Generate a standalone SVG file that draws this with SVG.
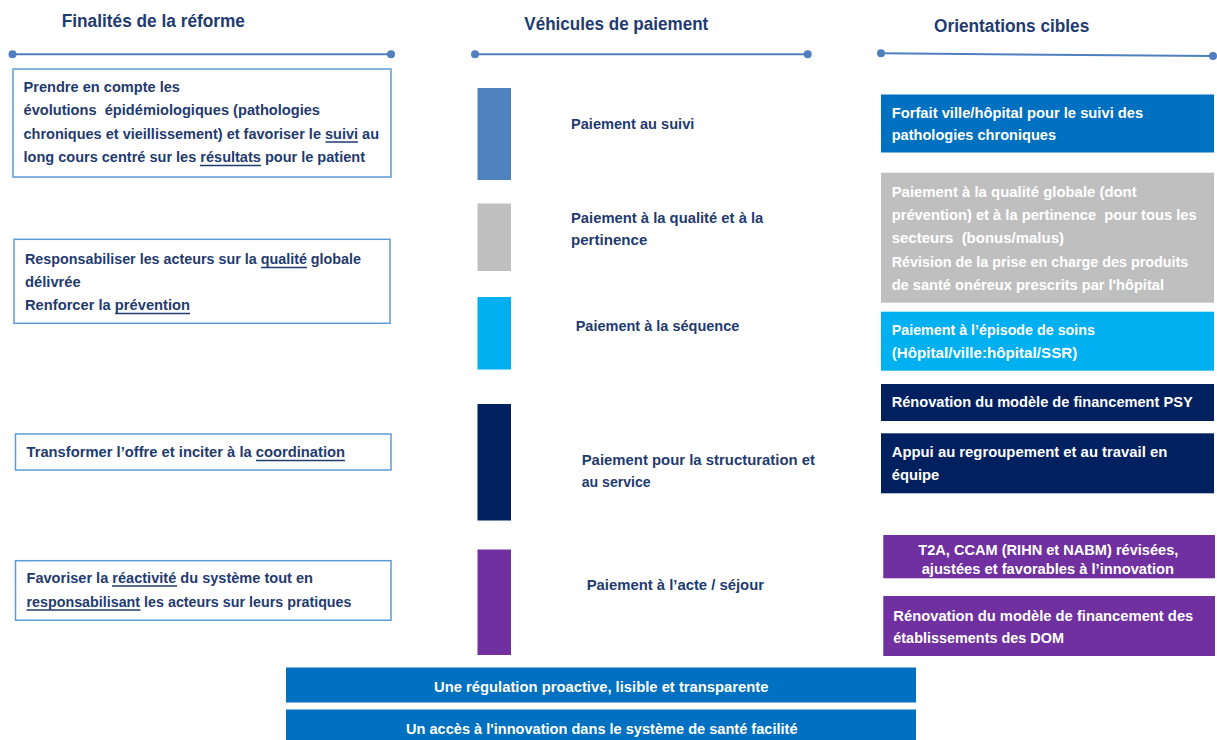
<svg xmlns="http://www.w3.org/2000/svg" width="1217" height="740" viewBox="0 0 1217 740">
<style>
text{font-family:"Liberation Sans",Arial,sans-serif;font-weight:bold;}
.title{font-size:18px;fill:#1f3b6f;}
.dk{font-size:15px;fill:#1f3b6f;}
.wt{font-size:15px;fill:#ffffff;}
.box{fill:#ffffff;stroke:#5b9bd5;stroke-width:1.5;}
.rule{stroke:#4f7fbf;stroke-width:2;fill:none;}
.dot{fill:#4f7fbf;}
.ul{stroke:#1f3b6f;stroke-width:1.3;}
</style>
<rect width="1217" height="740" fill="#ffffff"/>

<g id="headers">
  <text class="title" x="61.7" y="26.7" textLength="183.3" lengthAdjust="spacingAndGlyphs">Finalités de la réforme</text>
  <text class="title" x="524.3" y="30" textLength="184" lengthAdjust="spacingAndGlyphs">Véhicules de paiement</text>
  <text class="title" x="934" y="31.7" textLength="155.3" lengthAdjust="spacingAndGlyphs">Orientations cibles</text>
  <line class="rule" x1="12.5" y1="54.3" x2="391" y2="54.3"/>
  <circle class="dot" cx="12.5" cy="54.3" r="4"/>
  <circle class="dot" cx="391" cy="54.3" r="4"/>
  <line class="rule" x1="475" y1="54.3" x2="807.7" y2="54.3"/>
  <circle class="dot" cx="475" cy="54.3" r="4"/>
  <circle class="dot" cx="807.7" cy="54.3" r="4"/>
  <line class="rule" x1="881" y1="53.3" x2="1213" y2="56"/>
  <circle class="dot" cx="881" cy="53.3" r="4"/>
  <circle class="dot" cx="1213" cy="56" r="4"/>
</g>

<g id="connectors"></g>

<g id="finalite-1">
  <rect class="box" x="13" y="69" width="378" height="108"/>
  <text class="dk" x="23.5" y="92" textLength="156.5" lengthAdjust="spacingAndGlyphs">Prendre en compte les</text>
  <text class="dk" x="23.5" y="115" textLength="296.5" lengthAdjust="spacingAndGlyphs" xml:space="preserve">évolutions  épidémiologiques (pathologies</text>
  <text class="dk" x="23.5" y="138.5" textLength="355.5" lengthAdjust="spacingAndGlyphs">chroniques et vieillissement) et favoriser le suivi au</text>
  <text class="dk" x="23.5" y="162" textLength="341.5" lengthAdjust="spacingAndGlyphs">long cours centré sur les résultats pour le patient</text>
  <line class="ul" x1="325.5" y1="142" x2="358" y2="142"/>
  <line class="ul" x1="200" y1="165.5" x2="261" y2="165.5"/>
</g>

<g id="finalite-2">
  <rect class="box" x="14" y="239.3" width="376" height="84"/>
  <text class="dk" x="25" y="264" textLength="336" lengthAdjust="spacingAndGlyphs">Responsabiliser les acteurs sur la qualité globale</text>
  <text class="dk" x="25" y="286.5" textLength="55.7" lengthAdjust="spacingAndGlyphs">délivrée</text>
  <text class="dk" x="25" y="310" textLength="165" lengthAdjust="spacingAndGlyphs">Renforcer la prévention</text>
  <line class="ul" x1="261" y1="267.5" x2="307" y2="267.5"/>
  <line class="ul" x1="115" y1="313.5" x2="190" y2="313.5"/>
</g>

<g id="finalite-3">
  <rect class="box" x="15.5" y="434" width="375.5" height="36"/>
  <text class="dk" x="26.5" y="457" textLength="318.5" lengthAdjust="spacingAndGlyphs">Transformer l’offre et inciter à la coordination</text>
  <line class="ul" x1="256" y1="460.5" x2="345" y2="460.5"/>
</g>

<g id="finalite-4">
  <rect class="box" x="15.5" y="560.7" width="375.5" height="59.5"/>
  <text class="dk" x="26.5" y="582.5" textLength="286.5" lengthAdjust="spacingAndGlyphs">Favoriser la réactivité du système tout en</text>
  <text class="dk" x="26.5" y="606.5" textLength="325" lengthAdjust="spacingAndGlyphs">responsabilisant les acteurs sur leurs pratiques</text>
  <line class="ul" x1="112" y1="586" x2="177" y2="586"/>
  <line class="ul" x1="26.5" y1="610" x2="140.5" y2="610"/>
</g>

<g id="vehicule-suivi">
  <rect x="477.5" y="88" width="33.5" height="92" fill="#4f81bd"/>
  <text class="dk" x="571" y="129" textLength="123.3" lengthAdjust="spacingAndGlyphs">Paiement au suivi</text>
</g>
<g id="vehicule-qualite">
  <rect x="477.5" y="203.5" width="33.5" height="67.5" fill="#bfbfbf"/>
  <text class="dk" x="571" y="222.7" textLength="192.3" lengthAdjust="spacingAndGlyphs">Paiement à la qualité et à la</text>
  <text class="dk" x="571" y="245" textLength="76.3" lengthAdjust="spacingAndGlyphs">pertinence</text>
</g>
<g id="vehicule-sequence">
  <rect x="477.5" y="297" width="33.5" height="72.5" fill="#00b0f0"/>
  <text class="dk" x="575.7" y="330.7" textLength="163.6" lengthAdjust="spacingAndGlyphs">Paiement à la séquence</text>
</g>
<g id="vehicule-structuration">
  <rect x="477.5" y="404" width="33.5" height="116.5" fill="#002060"/>
  <text class="dk" x="581.7" y="465" textLength="233.3" lengthAdjust="spacingAndGlyphs">Paiement pour la structuration et</text>
  <text class="dk" x="581.7" y="487.3" textLength="69" lengthAdjust="spacingAndGlyphs">au service</text>
</g>
<g id="vehicule-acte">
  <rect x="477.5" y="549.5" width="33.5" height="105.5" fill="#7030a0"/>
  <text class="dk" x="586.7" y="590" textLength="177.3" lengthAdjust="spacingAndGlyphs">Paiement à l’acte / séjour</text>
</g>

<g id="orientation-forfait">
  <rect x="881" y="94.5" width="333" height="58" fill="#0070c0"/>
  <text class="wt" x="891.7" y="118.3" textLength="251.6" lengthAdjust="spacingAndGlyphs">Forfait ville/hôpital pour le suivi des</text>
  <text class="wt" x="891.7" y="140" textLength="164.3" lengthAdjust="spacingAndGlyphs">pathologies chroniques</text>
</g>
<g id="orientation-qualite">
  <rect x="881" y="172.7" width="333" height="130" fill="#bfbfbf"/>
  <text class="wt" x="891.7" y="196.7" textLength="245" lengthAdjust="spacingAndGlyphs">Paiement à la qualité globale (dont</text>
  <text class="wt" x="891.7" y="220" textLength="305" lengthAdjust="spacingAndGlyphs" xml:space="preserve">prévention) et à la pertinence  pour tous les</text>
  <text class="wt" x="891.7" y="243.3" textLength="172.3" lengthAdjust="spacingAndGlyphs" xml:space="preserve">secteurs  (bonus/malus)</text>
  <text class="wt" x="891.7" y="266.7" textLength="296.6" lengthAdjust="spacingAndGlyphs">Révision de la prise en charge des produits</text>
  <text class="wt" x="891.7" y="290" textLength="272.3" lengthAdjust="spacingAndGlyphs">de santé onéreux prescrits par l'hôpital</text>
</g>
<g id="orientation-episode">
  <rect x="881" y="311.7" width="333" height="59" fill="#00b0f0"/>
  <text class="wt" x="891.7" y="335" textLength="203.3" lengthAdjust="spacingAndGlyphs">Paiement à l’épisode de soins</text>
  <text class="wt" x="891.7" y="358.3" textLength="185.6" lengthAdjust="spacingAndGlyphs">(Hôpital/ville:hôpital/SSR)</text>
</g>
<g id="orientation-psy">
  <rect x="881" y="384" width="333" height="37" fill="#002060"/>
  <text class="wt" x="891.7" y="407.3" textLength="301" lengthAdjust="spacingAndGlyphs">Rénovation du modèle de financement PSY</text>
</g>
<g id="orientation-regroupement">
  <rect x="881" y="433.3" width="333" height="60" fill="#002060"/>
  <text class="wt" x="891.7" y="457.3" textLength="275.6" lengthAdjust="spacingAndGlyphs">Appui au regroupement et au travail en</text>
  <text class="wt" x="891.7" y="480" textLength="47.6" lengthAdjust="spacingAndGlyphs">équipe</text>
</g>
<g id="orientation-t2a">
  <rect x="883.3" y="535" width="331.7" height="43.3" fill="#7030a0"/>
  <text class="wt" x="1048.3" y="555" text-anchor="middle" textLength="260" lengthAdjust="spacingAndGlyphs">T2A, CCAM (RIHN et NABM) révisées,</text>
  <text class="wt" x="1047.8" y="574" text-anchor="middle" textLength="252.3" lengthAdjust="spacingAndGlyphs">ajustées et favorables à l’innovation</text>
</g>
<g id="orientation-dom">
  <rect x="883.3" y="596" width="331.7" height="60" fill="#7030a0"/>
  <text class="wt" x="893.3" y="620.7" textLength="300" lengthAdjust="spacingAndGlyphs">Rénovation du modèle de financement des</text>
  <text class="wt" x="893.3" y="642.7" textLength="170.7" lengthAdjust="spacingAndGlyphs">établissements des DOM</text>
</g>

<g id="band-regulation">
  <rect x="286" y="667.5" width="630" height="35" fill="#0070c0"/>
  <text class="wt" x="434" y="692" textLength="334.5" lengthAdjust="spacingAndGlyphs">Une régulation proactive, lisible et transparente</text>
</g>
<g id="band-innovation">
  <rect x="286" y="709.5" width="630" height="31" fill="#0070c0"/>
  <text class="wt" x="406" y="733.5" textLength="391.5" lengthAdjust="spacingAndGlyphs">Un accès à l'innovation dans le système de santé facilité</text>
</g>
</svg>
